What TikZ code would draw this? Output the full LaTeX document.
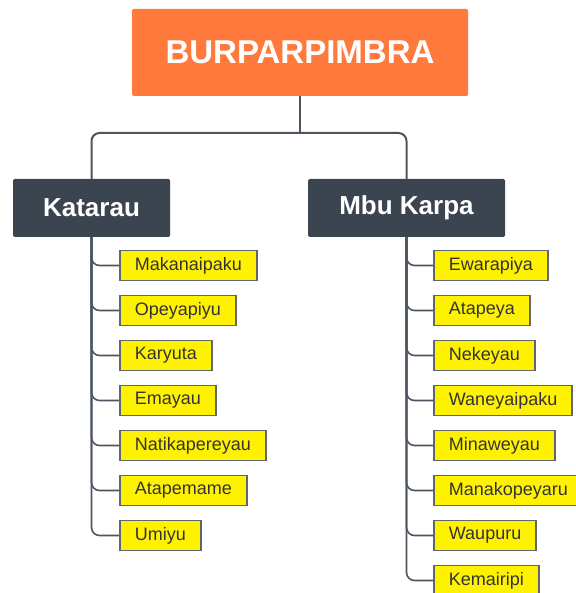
\documentclass[tikz,border=0pt]{standalone}
\usepackage{fontspec}
\setmainfont{Liberation Sans}
\begin{document}
\definecolor{rootfill}{HTML}{FF7A3C}
\definecolor{topicfill}{HTML}{3B4550}
\definecolor{linecol}{HTML}{4D5660}
\definecolor{leafline}{HTML}{5F6670}
\definecolor{leaftext}{HTML}{333333}
\begin{tikzpicture}[x=1pt,y=-1pt,
  rootbox/.style={fill=rootfill, text=white, rounded corners=1.5pt,
    minimum width=336pt, minimum height=87pt, inner sep=0pt,
    font=\fontsize{33}{36}\selectfont\bfseries},
  topicbox/.style={fill=topicfill, text=white, rounded corners=1.5pt,
    minimum height=58pt, inner sep=0pt,
    font=\fontsize{26}{28}\selectfont\bfseries},
  leafbox/.style={fill=yellow, draw=leafline, line width=1.8pt, text=leaftext,
    anchor=west, minimum height=30pt, inner ysep=0pt, inner xsep=15pt,
    font=\fontsize{18}{20}\selectfont},
  link/.style={draw=linecol, line width=2pt, rounded corners=8pt},
  twig/.style={draw=linecol, line width=1.6pt, rounded corners=8pt}]
\useasboundingbox (0,0) rectangle (575,593);

\node[rootbox] (root) at (300,52.5) {BURPARPIMBRA};
\node[topicbox, minimum width=157pt] (kat) at (91.5,208) {Katarau};
\node[topicbox, minimum width=197pt] (mbu) at (406.5,208) {Mbu Karpa};

\coordinate (fork) at (root.south |- 0,133);
\draw[link] (root.south) -- (fork);
\draw[link] (fork) -| (kat.north);
\draw[link] (fork) -| (mbu.north);

% left branch
\node[leafbox] (l1) at (119,265.5) {Makanaipaku};
\node[leafbox] (l2) at (119,310.5) {Opeyapiyu};
\node[leafbox] (l3) at (119,355.5) {Karyuta};
\node[leafbox] (l4) at (119,400.5) {Emayau};
\node[leafbox] (l5) at (119,445.5) {Natikapereyau};
\node[leafbox] (l6) at (119,490.5) {Atapemame};
\node[leafbox] (l7) at (119,535.5) {Umiyu};

% right branch
\node[leafbox] (r1) at (433,265.5) {Ewarapiya};
\node[leafbox] (r2) at (433,310.5) {Atapeya};
\node[leafbox] (r3) at (433,355.5) {Nekeyau};
\node[leafbox] (r4) at (433,400.5) {Waneyaipaku};
\node[leafbox] (r5) at (433,445.5) {Minaweyau};
\node[leafbox] (r6) at (433,490.5) {Manakopeyaru};
\node[leafbox] (r7) at (433,535.5) {Waupuru};
\node[leafbox] (r8) at (433,580.5) {Kemairipi};

\foreach \n in {l1,l2,l3,l4,l5,l6,l7}
  \draw[twig] (kat.south) |- (\n.west);
\foreach \n in {r1,r2,r3,r4,r5,r6,r7,r8}
  \draw[twig] (mbu.south) |- (\n.west);
\end{tikzpicture}
\end{document}
